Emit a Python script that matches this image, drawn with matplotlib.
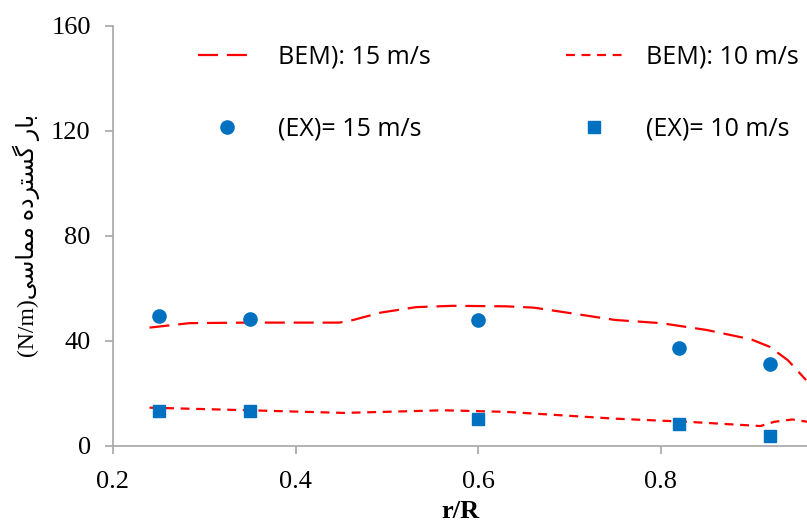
import matplotlib
matplotlib.use("Agg")
import matplotlib.pyplot as plt
import numpy as np

# experimental points
r_ex = [0.25, 0.35, 0.6, 0.82, 0.92]
ex_15 = [49.6, 48.5, 48.0, 37.5, 31.3]
ex_10 = [13.4, 13.4, 10.1, 8.3, 3.7]

# BEM curves
r_bem15 = [0.24, 0.284, 0.349, 0.448, 0.463, 0.493, 0.532, 0.572, 0.631, 0.661,
           0.701, 0.750, 0.800, 0.850, 0.899, 0.919, 0.939, 0.959]
bem_15 = [45.1, 46.8, 47.0, 47.0, 48.0, 50.8, 52.9, 53.4, 53.2, 52.7,
          50.6, 48.0, 46.8, 44.2, 40.6, 37.8, 32.7, 25.1]
r_bem10 = [0.24, 0.349, 0.453, 0.562, 0.631, 0.750, 0.830, 0.909, 0.924, 0.944, 0.961]
bem_10 = [14.6, 13.6, 12.6, 13.6, 13.0, 10.4, 9.2, 7.6, 9.2, 10.1, 9.2]

labels = ["BEM): 15 m/s", "(EX)= 15 m/s", "BEM): 10 m/s", "(EX)= 10 m/s"]

# Persian label in visual order with presentation forms: "بار گسترده مماسی"
fa = "\uFBFD\uFEB3\uFE8E\uFEE4\uFEE3 \uFEE9\uFEA9\uFEAE\uFE98\uFEB4\uFB94 \uFEAD\uFE8E\uFE91"
ylab = "(N/m)" + fa

red = "#FF0000"
blue = "#0070C0"
gray = "#A6A6A6"

fig = plt.figure(figsize=(8.07, 5.25), dpi=100)
ax = fig.add_axes([0.140, 0.1505, 0.86, 0.80])

l15, = ax.plot(r_bem15, bem_15, color=red, lw=1.6, dashes=(9, 4))
p15, = ax.plot(r_ex, ex_15, "o", color=blue, ms=9.5, ls="none")
l10, = ax.plot(r_bem10, bem_10, color=red, lw=1.6, dashes=(4, 3))
p10, = ax.plot(r_ex, ex_10, "s", color=blue, ms=9, ls="none")

ax.set_xlim(0.2, 0.96)
ax.set_ylim(0, 160)
ax.set_xticks([0.2, 0.4, 0.6, 0.8])
ax.set_yticks([0, 40, 80, 120, 160])
ax.set_xticklabels(["0.2", "0.4", "0.6", "0.8"])

for s in ["top", "right"]:
    ax.spines[s].set_visible(False)
for s in ["left", "bottom"]:
    ax.spines[s].set_color(gray)
    ax.spines[s].set_linewidth(1.2)
ax.tick_params(colors=gray, length=6, width=1.2, labelcolor="black",
               labelsize=19)
ax.tick_params(axis="y", pad=10)
ax.tick_params(axis="x", pad=12)
for t in ax.get_xticklabels() + ax.get_yticklabels():
    t.set_family("Liberation Serif")

ax.set_xlabel("r/R", family="Liberation Serif", fontweight="bold", fontsize=19, labelpad=5)
ax.set_ylabel(ylab, family=["Liberation Serif", "DejaVu Sans"], fontsize=17, labelpad=8)

ax.legend([l15, p15, l10, p10], labels, ncol=2, frameon=False,
          loc="upper left", bbox_to_anchor=(0.09, 1.01),
          prop={"family": "Open Sans", "size": 18},
          handlelength=2.3, handletextpad=0.9, labelspacing=1.9,
          columnspacing=5.4, numpoints=1)

fig.savefig("out.png", dpi=100)
